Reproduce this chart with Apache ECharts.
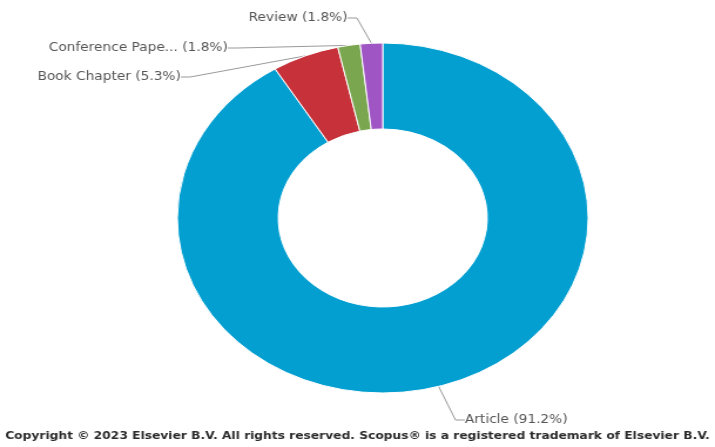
<!DOCTYPE html>
<html>
<head>
<meta charset="utf-8">
<script src="https://cdn.jsdelivr.net/npm/echarts@6/dist/echarts.min.js"></script>
<style>
  html, body { margin: 0; padding: 0; background: #fff; overflow: hidden; }
  /* the source picture is stretched sideways, so the chart is drawn narrow and widened */
  #main { width: 609px; height: 447px; transform: scaleX(1.174); transform-origin: 0 0; }
</style>
</head>
<body>
<div id="main"></div>
<script>
var docTypes = ['Article', 'Book Chapter', 'Conference Paper', 'Review'];
var shortNames = ['Article', 'Book Chapter', 'Conference Pape...', 'Review'];
var docCounts = [52, 3, 1, 1];
var sliceColors = ['#049fd1', '#c6313a', '#79a64f', '#a055c5'];

// label spots, picked by eye from the reference
var labelSpots = [
  { x: 396, y: 420, align: 'left' },
  { x: 154, y: 77, align: 'right' },
  { x: 194, y: 48, align: 'right' },
  { x: 296, y: 18, align: 'right' }
];

var chart = echarts.init(document.getElementById('main'));

var total = docCounts.reduce(function (a, b) { return a + b; }, 0);
var pieData = docTypes.map(function (name, i) {
  return { name: name, value: docCounts[i], itemStyle: { color: sliceColors[i] } };
});

chart.setOption({
  animation: false,
  series: [
    {
      type: 'pie',
      center: [326, 218],
      radius: [89, 175],
      startAngle: 90,
      clockwise: true,
      avoidLabelOverlap: false,
      itemStyle: { borderColor: '#fff', borderWidth: 1 },
      label: {
        show: true,
        color: '#555',
        fontFamily: 'DejaVu Sans',
        fontSize: 11.7,
        formatter: function (p) {
          return shortNames[p.dataIndex] + ' (' + (p.value / total * 100).toFixed(1) + '%)';
        }
      },
      labelLine: { show: true, length: 20, length2: 8, lineStyle: { color: '#999', width: 1 } },
      labelLayout: function (p) {
        var s = labelSpots[p.dataIndex];
        return { x: s.x, y: s.y, align: s.align, verticalAlign: 'middle' };
      },
      data: pieData
    }
  ],
  graphic: [
    {
      type: 'text',
      left: 'center',
      top: 431,
      style: {
        text: 'Copyright \u00a9 2023 Elsevier B.V. All rights reserved. Scopus\u00ae is a registered trademark of Elsevier B.V.',
        fill: '#2b2b2b',
        font: 'bold 10.45px "DejaVu Sans"'
      }
    }
  ]
});
</script>
</body>
</html>
